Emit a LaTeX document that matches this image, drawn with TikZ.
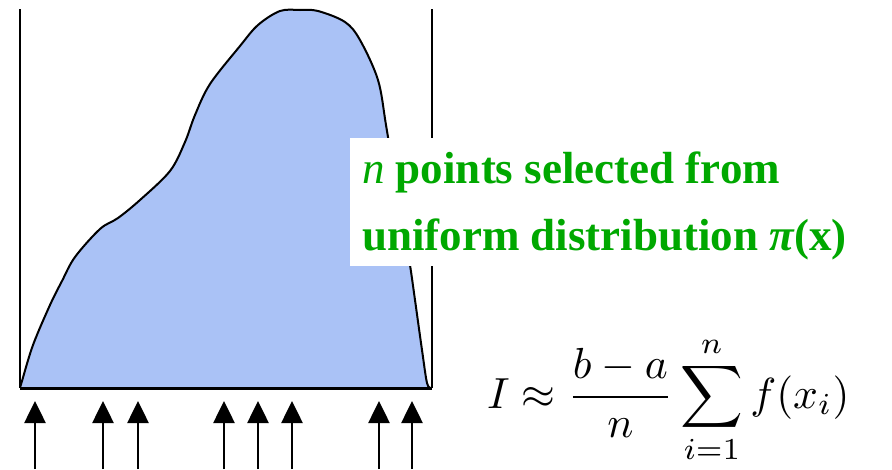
\documentclass[tikz,border=0pt]{standalone}
\usepackage{fontspec}
\setmainfont{Liberation Serif}
\usetikzlibrary{arrows.meta}
\definecolor{areafill}{RGB}{170,194,246}
\definecolor{labelgreen}{RGB}{0,168,0}
\tikzset{
  wall/.style={line width=2.4pt, black},
  sample/.style={line width=2.6pt, -{Triangle[width=21pt,length=22pt]}},
  greentext/.style={text=labelgreen, font=\fontsize{45}{50}\selectfont\bfseries, anchor=base west, inner sep=0pt},
}
\begin{document}
\begin{tikzpicture}[x=1pt,y=-1pt]
\useasboundingbox (0,0) rectangle (892,469);
% area under curve
\fill[areafill] plot[smooth, tension=0.55] coordinates {
 (20,388) (22,381) (33,345) (50,305) (62,281) (75,257) (100,229) (118,218)
 (140,200) (170,171) (185,142) (195,115) (210,84) (240,46) (258,25) (280,11)
 (300,10) (318,11) (345,22) (360,40) (378,80) (386,125) (395,180) (404,230)
 (410,265) (415,300) (422,350) (427,383) (431,388)} -- cycle;
\draw[line width=2pt] plot[smooth, tension=0.55] coordinates {
 (20,388) (22,381) (33,345) (50,305) (62,281) (75,257) (100,229) (118,218)
 (140,200) (170,171) (185,142) (195,115) (210,84) (240,46) (258,25) (280,11)
 (300,10) (318,11) (345,22) (360,40) (378,80) (386,125) (395,180) (404,230)
 (410,265) (415,300) (422,350) (427,383) (431,388)};
% bounds
\coordinate (lt) at (20,9);
\coordinate (lb) at (20,388);
\coordinate (rt) at (432,9);
\coordinate (rb) at (432,388);
\draw[wall] (lt) -- (lb);
\draw[wall] (rt) -- (rb);
\draw[line width=3pt] (lb) -- (rb);
% sample arrows
\foreach \i/\x in {1/35,2/103,3/138,4/224,5/258,6/292,7/379,8/412}{
  \coordinate (s\i) at (\x,469);
  \coordinate (e\i) at (\x,401);
  \draw[sample] (s\i) -- (e\i);
}
% label box
\node[fill=white, minimum width=535pt, minimum height=128pt, anchor=north west, inner sep=0pt] (box) at (350,138) {};
\node[greentext] (line1) at (362,183) {{\mdseries\itshape n} points selected from};
\node[greentext] (line2) at (362,250) {uniform distribution {\itshape π}(x)};
% formula
\node[anchor=base west, inner sep=0pt] (formula) at (487,408)
  {\scalebox{4.35}{$\displaystyle I\approx\frac{b-a}{n}\sum_{i=1}^{n} f(x_i)$}};
\end{tikzpicture}
\end{document}
